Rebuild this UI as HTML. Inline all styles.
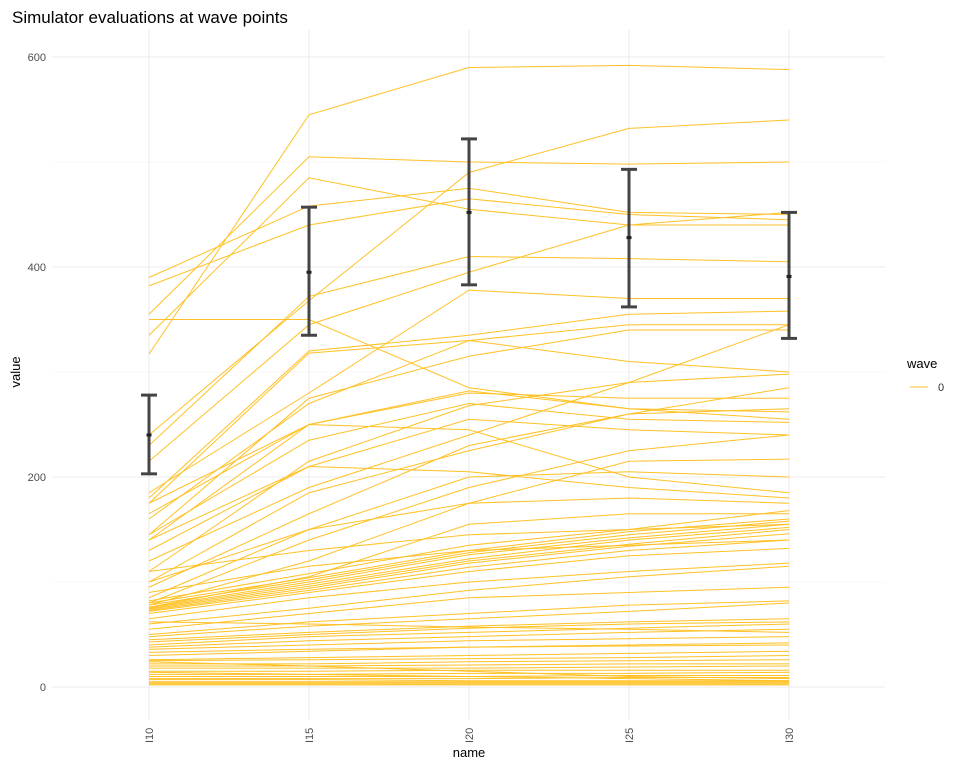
<!DOCTYPE html>
<html><head><meta charset="utf-8"><style>
body{margin:0;background:#fff;font-family:"Liberation Sans",sans-serif}
</style></head><body>
<svg id="c" width="960" height="768" xmlns="http://www.w3.org/2000/svg">
<text x="12" y="23" font-size="17" fill="#000">Simulator evaluations at wave points</text>
<g id="grid"></g><g id="lines"></g><g id="err"></g><g id="axes"></g>
<text x="469" y="757" font-size="13" text-anchor="middle" fill="#000">name</text>
<text transform="translate(20,372) rotate(-90)" font-size="13" text-anchor="middle" fill="#000">value</text>
<g>
<text x="907" y="368" font-size="13" fill="#000">wave</text>
<line x1="910" y1="387" x2="928" y2="387" stroke="#FFC125" stroke-width="1"/>
<text x="938" y="391" font-size="11" fill="#333">0</text>
</g>
</svg>
<script>
const categories=["I10","I15","I20","I25","I30"];
const yTicks=[0,200,400,600];
const yMinor=[100,300,500];
const errMean=[240,395,452,428,391];
const errLow=[203,335,383,362,332];
const errHigh=[278,457,522,493,452];
const series=[
[317,545,590,592,588],[390,458,475,452,450],[382,440,465,450,445],[350,350,285,265,255],
[335,485,455,440,440],[355,505,500,498,500],[240,368,490,532,540],[230,372,410,408,405],
[215,345,395,440,452],[185,280,378,370,370],[180,320,335,355,358],[175,318,330,345,345],
[160,270,330,310,300],[145,275,315,340,340],[140,250,280,275,275],[175,250,282,265,262],
[145,235,270,255,252],[130,210,255,245,240],[120,190,240,290,345],[110,215,268,290,298],
[100,185,225,260,285],[95,165,230,260,265],[85,150,200,205,200],[80,140,190,225,240],
[78,120,175,215,217],[76,105,155,165,165],[82,108,135,150,168],[80,104,130,148,160],
[78,102,128,145,158],[76,100,126,142,155],[75,98,122,140,152],[74,96,120,136,150],
[73,94,118,134,146],[72,92,114,130,140],[70,90,110,125,132],[165,250,245,200,185],
[140,210,205,190,180],[60,75,92,105,115],[55,70,85,90,95],[50,62,70,78,82],
[48,58,65,72,80],[45,52,58,62,65],[40,48,52,56,60],[38,44,48,52,55],[36,40,44,46,48],
[30,34,38,40,42],[26,28,30,32,34],[25,26,27,28,30],[22,22,24,25,26],[20,20,21,22,22],
[18,18,18,19,20],[15,15,16,16,16],[12,12,13,13,14],[10,10,10,11,11],[8,8,8,9,9],
[7,7,6,6,6],[5,5,5,5,5],[4,4,4,4,4],[3,3,3,3,3],[2,2,2,2,2],[24,20,15,10,8],
[14,12,10,8,6],[62,60,57,55,52],[110,130,145,150,155],[90,115,130,135,140],
[100,150,175,180,175],[65,85,100,110,118],[43,50,56,60,62],[33,36,38,39,40]
];
const NS="http://www.w3.org/2000/svg";
const pLeft=52,pRight=885,pTop=30,pBottom=720;
function xs(i){return 149+i*160;}
function ys(v){return 687-v*1.05;}
function mk(tag,attrs,parent){const e=document.createElementNS(NS,tag);for(const k in attrs)e.setAttribute(k,attrs[k]);parent.appendChild(e);return e;}
const grid=document.getElementById('grid'),lines=document.getElementById('lines'),err=document.getElementById('err'),axes=document.getElementById('axes');
yMinor.forEach(v=>{const l=mk('line',{x1:pLeft,x2:pRight,y1:ys(v),y2:ys(v),stroke:'#f2f2f2','stroke-width':0.6},grid);

});
yTicks.forEach(v=>{const l=mk('line',{x1:pLeft,x2:pRight,y1:ys(v),y2:ys(v),stroke:'#ebebeb','stroke-width':1.1},grid);


const t=mk('text',{x:46,y:ys(v)+4,'font-size':11,fill:'#4d4d4d','text-anchor':'end'},axes);t.textContent=v;

});
categories.forEach((c,i)=>{const l=mk('line',{x1:xs(i),x2:xs(i),y1:pTop,y2:pBottom,stroke:'#ebebeb','stroke-width':1.1},grid);


const t=mk('text',{transform:`translate(${xs(i)+4},743) rotate(-90)`,'font-size':11,fill:'#4d4d4d'},axes);t.textContent=c;

});
series.forEach(s=>{const p=mk('polyline',{points:s.map((v,i)=>xs(i)+','+ys(v)).join(' '),fill:'none',stroke:'#FFC125','stroke-width':1},lines);

});
categories.forEach((c,i)=>{const g=mk('g',{},err);


const x=xs(i);
mk('line',{x1:x,x2:x,y1:ys(errLow[i]),y2:ys(errHigh[i]),stroke:'#444','stroke-width':3},g);
mk('line',{x1:x-8,x2:x+8,y1:ys(errLow[i]),y2:ys(errLow[i]),stroke:'#444','stroke-width':3},g);
mk('line',{x1:x-8,x2:x+8,y1:ys(errHigh[i]),y2:ys(errHigh[i]),stroke:'#444','stroke-width':3},g);
mk('rect',{x:x-2.5,y:ys(errMean[i])-1.5,width:5,height:3,fill:'#222'},g);});
</script>
</body></html>
